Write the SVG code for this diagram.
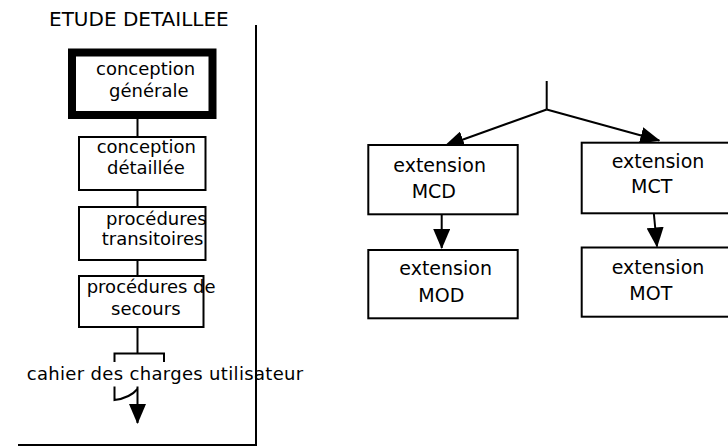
<svg xmlns="http://www.w3.org/2000/svg" width="728" height="446" viewBox="0 0 728 446">
<style>
  text { font-family: "DejaVu Sans", "Liberation Sans", sans-serif; fill: #000; }
  .l { font-size: 18px; }
  .r { font-size: 19px; }
  .t { font-size: 20px; }
  .box { fill: #fff; stroke: #000; stroke-width: 2; }
  .thick { fill: #fff; stroke: #000; stroke-width: 8; }
  .c { fill: none; stroke: #000; stroke-width: 2; }
</style>
<defs>
  <marker id="ah" markerUnits="userSpaceOnUse" markerWidth="20" markerHeight="17" refX="19" refY="8.5" orient="auto" viewBox="0 0 20 17">
    <path d="M0,0 L20,8.5 L0,17 Z" fill="#000"/>
  </marker>
</defs>
<rect width="728" height="446" fill="#fff"/>

<g id="frame">
  <line class="c" x1="256" y1="25" x2="256" y2="446"/>
  <line class="c" x1="18" y1="445" x2="257" y2="445"/>
</g>

<g id="title">
  <text class="t" x="49" y="26">ETUDE DETAILLEE</text>
</g>

<g id="connectors">
  <line class="c" x1="137.5" y1="119" x2="137.5" y2="137"/>
  <line class="c" x1="137.5" y1="190" x2="137.5" y2="207"/>
  <line class="c" x1="137.5" y1="260" x2="137.5" y2="276"/>
  <line class="c" x1="137.5" y1="327" x2="137.5" y2="353.5"/>
  <path class="c" d="M114.5,362 V353.5 H164 V362"/>
  <path class="c" d="M114.5,386.5 V400 Q130,398 137.5,389"/>
  <line class="c" x1="137.5" y1="386.5" x2="137.5" y2="423" marker-end="url(#ah)"/>
  <line class="c" x1="546.7" y1="81" x2="546.7" y2="109.5"/>
  <line class="c" x1="546.7" y1="109.5" x2="445" y2="146" marker-end="url(#ah)"/>
  <line class="c" x1="546.7" y1="109.5" x2="659.3" y2="140.5" marker-end="url(#ah)"/>
  <line class="c" x1="441.7" y1="214" x2="441.7" y2="248" marker-end="url(#ah)"/>
  <line class="c" x1="653.8" y1="213" x2="657" y2="246.5" marker-end="url(#ah)"/>
</g>

<g id="n-conception-generale">
  <rect class="thick" x="72" y="52.5" width="140.5" height="62.5"/>
  <text class="l" x="96" y="75">conception</text>
  <text class="l" x="109" y="96.7">générale</text>
</g>

<g id="n-conception-detaillee">
  <rect class="box" x="79" y="137" width="126.5" height="53"/>
  <text class="l" x="96.7" y="152.7">conception</text>
  <text class="l" x="107" y="174">détaillée</text>
</g>

<g id="n-procedures-transitoires">
  <rect class="box" x="79" y="207" width="126.5" height="53"/>
  <text class="l" x="106" y="225">procédures</text>
  <text class="l" x="101.7" y="245">transitoires</text>
</g>

<g id="n-procedures-secours">
  <rect class="box" x="79" y="276" width="124.5" height="51"/>
  <text class="l" x="86.7" y="293.3">procédures de</text>
  <text class="l" x="111" y="315">secours</text>
</g>

<g id="n-cahier">
  <text class="l" x="26.7" y="380" textLength="276.5" lengthAdjust="spacing">cahier des charges utilisateur</text>
</g>

<g id="n-mcd">
  <rect class="box" x="368.3" y="145" width="149.4" height="69.3"/>
  <text class="r" x="393.3" y="171.7">extension</text>
  <text class="r" x="411.7" y="198.3">MCD</text>
</g>

<g id="n-mod">
  <rect class="box" x="368.3" y="250" width="149.4" height="68.3"/>
  <text class="r" x="399.3" y="275">extension</text>
  <text class="r" x="418.3" y="301.7">MOD</text>
</g>

<g id="n-mct">
  <rect class="box" x="581.7" y="142.7" width="150" height="70.6"/>
  <text class="r" x="611.7" y="168.3">extension</text>
  <text class="r" x="631" y="193.3">MCT</text>
</g>

<g id="n-mot">
  <rect class="box" x="581.7" y="247.5" width="150" height="69.2"/>
  <text class="r" x="611.7" y="274">extension</text>
  <text class="r" x="629.3" y="300">MOT</text>
</g>
</svg>
